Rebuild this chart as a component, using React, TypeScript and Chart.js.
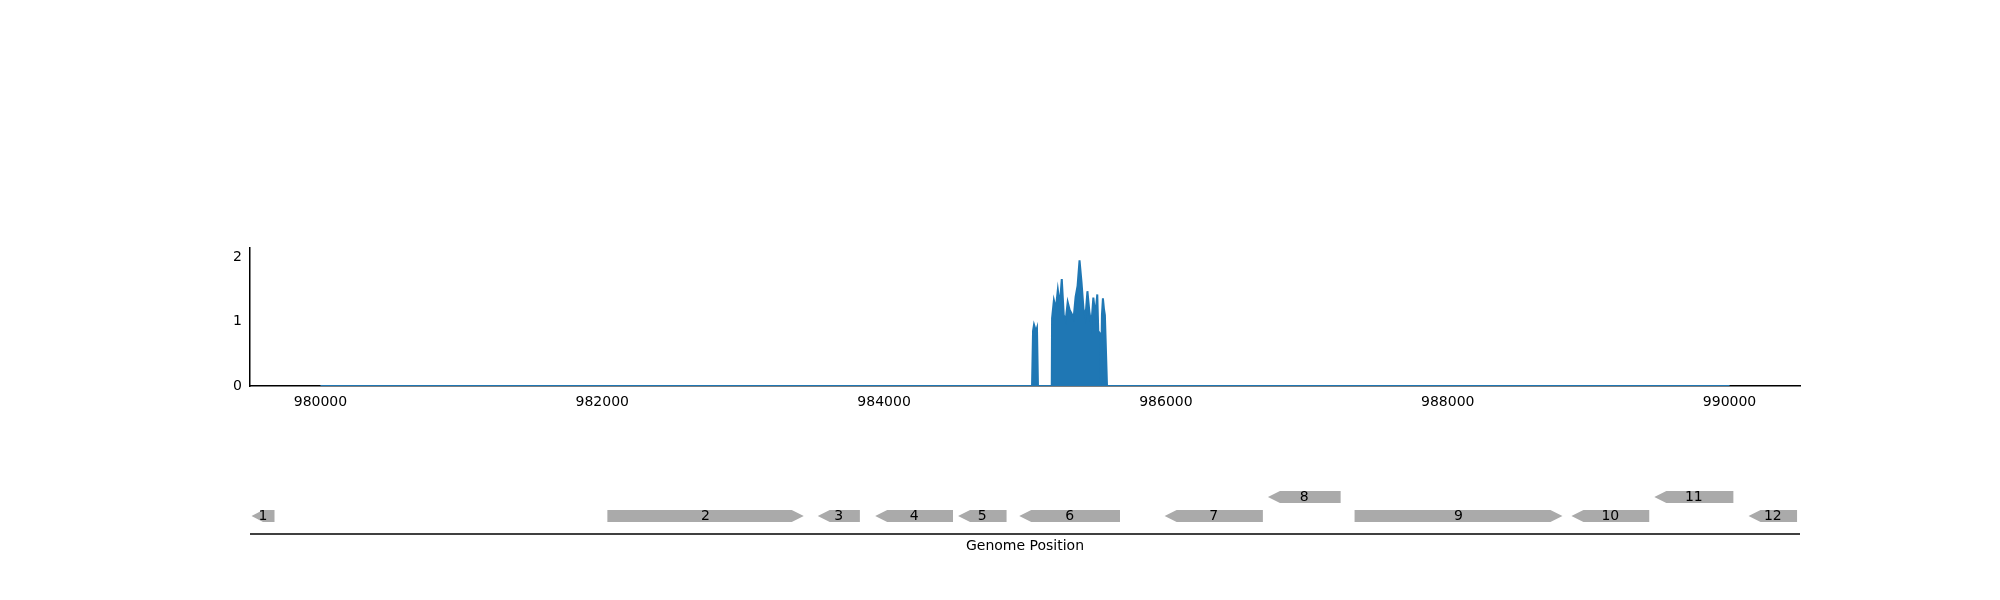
import { useEffect, useRef } from 'react';
import Chart from 'chart.js/auto';

// coverage profile (bp position -> depth)
const covPos = [980000, 985050, 985057, 985064, 985071, 985078, 985085, 985092, 985190,
  985192, 985205, 985219, 985233, 985247, 985261, 985275, 985289, 985303, 985317, 985331,
  985345, 985359, 985373, 985387, 985401, 985415, 985429, 985443, 985457, 985471, 985485,
  985499, 985513, 985520, 985536, 985539, 985546, 985553, 985560, 985567, 985582, 985590, 990000];
const covVal = [0, 0, 0.85, 0.95, 0.9, 0.85, 0.9, 0, 0,
  1.05, 1.33, 1.2, 1.49, 1.25, 1.66, 1.1, 1.02, 1.3, 1.18, 1.12, 1.05, 1.38, 1.55, 1.95,
  1.61, 1.2, 1.07, 1.47, 1.15, 0.95, 1.37, 1.1, 1.42, 0.85, 0.8, 0, 1.1, 1.36, 1.2, 1.1, 0, 0, 0];

const geneNames = ['1', '2', '3', '4', '5', '6', '7', '8', '9', '10', '11', '12'];
const geneStart = [979511, 982036, 983529, 983937, 984525, 984959, 985991, 986724, 987339, 988878, 989466, 990135];
const geneEnd = [979674, 983430, 983828, 984489, 984869, 985674, 986688, 987240, 988814, 989430, 990027, 990479];
const geneStrand = [-1, 1, -1, -1, -1, -1, -1, -1, 1, -1, -1, -1];
const geneRow = [0, 0, 0, 0, 0, 0, 0, 1, 0, 0, 1, 0];

const xTicks = [980000, 982000, 984000, 986000, 988000, 990000];

const genePlugin = {
  id: 'genes',
  afterDraw(chart: any) {
    const ctx = chart.ctx;
    const x = chart.scales.x;
    const left = chart.chartArea.left;
    const right = chart.chartArea.right;
    ctx.save();
    ctx.strokeStyle = '#000';
    ctx.lineWidth = 1.5;
    ctx.beginPath();
    ctx.moveTo(left, 534);
    ctx.lineTo(right, 534);
    ctx.stroke();
    ctx.font = '14px "DejaVu Sans"';
    ctx.textAlign = 'center';
    ctx.textBaseline = 'middle';
    ctx.fillStyle = '#000';
    ctx.fillText('Genome Position', (left + right) / 2, 546);
    geneNames.forEach((name, i) => {
      const x0 = x.getPixelForValue(geneStart[i]);
      const x1 = x.getPixelForValue(geneEnd[i]);
      const cy = geneRow[i] ? 497 : 516;
      const h = 6;
      const head = Math.min(12, (x1 - x0) / 2);
      ctx.fillStyle = '#aaaaaa';
      ctx.beginPath();
      if (geneStrand[i] > 0) {
        ctx.moveTo(x0, cy - h);
        ctx.lineTo(x1 - head, cy - h);
        ctx.lineTo(x1, cy);
        ctx.lineTo(x1 - head, cy + h);
        ctx.lineTo(x0, cy + h);
      } else {
        ctx.moveTo(x1, cy - h);
        ctx.lineTo(x0 + head, cy - h);
        ctx.lineTo(x0, cy);
        ctx.lineTo(x0 + head, cy + h);
        ctx.lineTo(x1, cy + h);
      }
      ctx.closePath();
      ctx.fill();
      ctx.fillStyle = '#000';
      ctx.fillText(name, (x0 + x1) / 2, cy);
    });
    ctx.restore();
  },
};

export default function App() {
  const canvasRef = useRef<HTMLCanvasElement>(null);

  useEffect(() => {
    document.body.style.margin = '0';
    const canvas = canvasRef.current;
    if (!canvas) return;
    const font = { family: 'DejaVu Sans', size: 14 };
    const chart = new Chart(canvas, {
      type: 'line',
      data: {
        datasets: [
          {
            data: covPos.map((p, i) => ({ x: p, y: covVal[i] })),
            borderColor: '#1f77b4',
            backgroundColor: '#1f77b4',
            borderWidth: 2,
            pointRadius: 0,
            fill: 'origin',
            stepped: false,
            tension: 0,
          },
        ],
      },
      options: {
        animation: false,
        responsive: false,
        layout: { padding: { left: 200, right: 200, top: 248, bottom: 184 } },
        plugins: { legend: { display: false }, tooltip: { enabled: false } },
        scales: {
          x: {
            type: 'linear',
            min: 979500,
            max: 990500,
            afterFit: (s: any) => { s.height = 30; },
            afterBuildTicks: (s: any) => { s.ticks = xTicks.map((v) => ({ value: v })); },
            grid: { display: false, drawTicks: true, tickLength: 5, tickColor: '#000' },
            border: { color: '#000', width: 1.5 },
            ticks: { color: '#000', font, maxRotation: 0, callback: (v: any) => String(v) },
          },
          y: {
            min: 0,
            max: 2.14,
            afterFit: (s: any) => { s.width = 50; },
            afterBuildTicks: (s: any) => { s.ticks = [0, 1, 2].map((v) => ({ value: v })); },
            grid: { display: false, drawTicks: true, tickLength: 5, tickColor: '#000' },
            border: { color: '#000', width: 1.5 },
            ticks: { color: '#000', font },
          },
        },
      },
      plugins: [genePlugin],
    });
    return () => chart.destroy();
  }, []);

  return <canvas ref={canvasRef} width={2000} height={600} style={{ display: 'block' }} />;
}
